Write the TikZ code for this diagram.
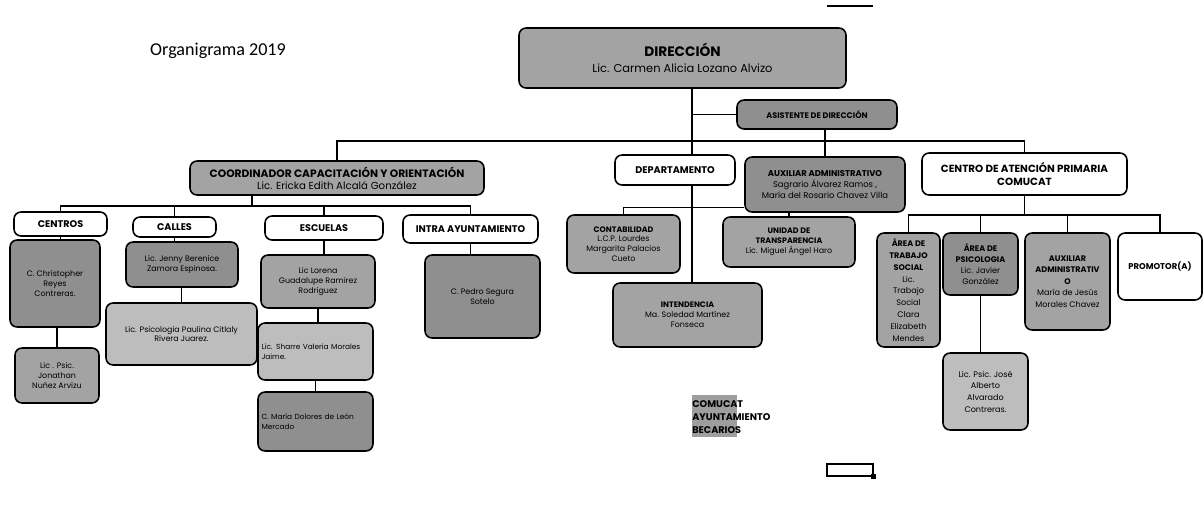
\documentclass[tikz,border=0pt]{standalone}
\usepackage{fontspec}
\setmainfont{Poppins}
\newfontfamily\titlefont{Carlito}
\definecolor{boxdark}{gray}{0.56}
\definecolor{boxmid}{gray}{0.64}
\definecolor{boxlight}{gray}{0.74}
\definecolor{legendgray}{gray}{0.62}

\begin{document}
\begin{tikzpicture}[x = 0.02cm, y = -0.02cm,
	box/.style = {draw, line width = 0.9pt, rounded corners = 4pt, align = center, inner sep = 1pt, font = \fontsize{4.5}{5.6}\selectfont},
	darkbox/.style = {box, fill = boxdark},
	midbox/.style = {box, fill = boxmid},
	lightbox/.style = {box, fill = boxlight},
	whitebox/.style = {box, fill = white},
	headfont/.style = {font = \fontsize{5.5}{6.6}\selectfont\bfseries},
	link/.style = {line width = 0.8pt}]

	\useasboundingbox (0, 0) rectangle (1204, 518);

	% Title
	
	\node (title) at (218, 51) {\titlefont\fontsize{10.3}{12}\selectfont Organigrama 2019};
	
	% Direction, assistant and main bus
	
	\node [midbox, minimum width = 6.54cm, minimum height = 1.2cm, font = \fontsize{6.5}{9}\selectfont] (dir) at (682.5, 58) {{\fontsize{7.8}{8.5}\selectfont\bfseries DIRECCIÓN}\\Lic. Carmen Alicia Lozano Alvizo};
	\node [darkbox, minimum width = 3.2cm, minimum height = 0.58cm, font = \fontsize{4.6}{5.4}\selectfont\bfseries] (asis) at (817, 114.5) {ASISTENTE DE DIRECCIÓN};
	
	\coordinate (mbus) at (692, 141);
	
	\node [midbox, minimum width = 5.88cm, minimum height = 0.68cm, font = \fontsize{5.8}{7}\selectfont] (coord) at (337, 178) {{\fontsize{6.1}{7}\selectfont\bfseries COORDINADOR CAPACITACIÓN Y ORIENTACIÓN}\\Lic. Ericka Edith Alcalá González};
	\node [whitebox, minimum width = 2.4cm, minimum height = 0.6cm, headfont] (dep) at (675, 170) {DEPARTAMENTO};
	\node [darkbox, minimum width = 3.2cm, minimum height = 1.1cm, font = \fontsize{4.8}{6}\selectfont] (auxa) at (825, 184.5) {{\bfseries AUXILIAR ADMINISTRATIVO}\\Sagrario Álvarez Ramos ,\\María del Rosario Chavez Villa};
	\node [whitebox, minimum width = 4.1cm, minimum height = 0.84cm, font = \fontsize{5.9}{7}\selectfont\bfseries] (cap) at (1024.5, 174) {CENTRO DE ATENCIÓN PRIMARIA\\COMUCAT};
	
	\draw [link] (dir.south -| mbus) -- (dep.north -| mbus);
	\draw [link] (mbus |- asis.west) -- (asis.west);
	\draw [link] (coord.north) |- (mbus) -| (cap.north);
	\draw [link] (auxa.north |- asis.south) -- (auxa.north);
	
	% Departamento branch
	
	\node [midbox, minimum width = 2.26cm, minimum height = 1.16cm] (cont) at (623.5, 244) {{\bfseries CONTABILIDAD}\\L.C.P. Lourdes\\Margarita Palacios\\Cueto};
	\node [midbox, minimum width = 2.64cm, minimum height = 1.0cm] (unid) at (789, 242) {{\bfseries UNIDAD DE}\\{\bfseries TRANSPARENCIA}\\Lic. Miguel Ángel Haro};
	\node [midbox, minimum width = 2.98cm, minimum height = 1.28cm] (int) at (687.5, 315) {{\bfseries INTENDENCIA}\\Ma. Soledad Martínez\\Fonseca};
	
	\draw [link] (dep.south -| mbus) -- (int.north -| mbus);
	\draw [link] (cont.north) |- ([yshift = 0.1cm] auxa.south west);
	\draw [link] (auxa.south -| unid.north) -- (unid.north);
	
	% Coordinador branch
	
	\node [whitebox, minimum width = 1.86cm, minimum height = 0.48cm, headfont] (cen) at (60.5, 224) {CENTROS};
	\node [whitebox, minimum width = 1.66cm, minimum height = 0.4cm, headfont] (cal) at (174.5, 227) {CALLES};
	\node [whitebox, minimum width = 2.36cm, minimum height = 0.48cm, headfont] (esc) at (324, 228) {ESCUELAS};
	\node [whitebox, minimum width = 2.7cm, minimum height = 0.56cm, headfont] (intra) at (470.5, 229) {INTRA AYUNTAMIENTO};
	
	\coordinate (cbus) at (252, 206);
	
	\draw [link] (cbus) -- (cbus |- coord.south);
	\draw [link] (cen.north) |- (cbus) -| (intra.north);
	\draw [link] (cal.north) -- (cal.north |- cbus);
	\draw [link] (esc.north) -- (esc.north |- cbus);
	
	\node [darkbox, minimum width = 1.8cm, minimum height = 1.74cm] (chr) at (55, 283.5) {C. Christopher\\Reyes\\Contreras.};
	\node [midbox, minimum width = 1.68cm, minimum height = 1.1cm] (jon) at (57, 375.5) {Lic . Psic.\\Jonathan\\Nuñez Arvizu};
	\node [darkbox, minimum width = 2.24cm, minimum height = 0.9cm] (jen) at (182, 264.5) {Lic. Jenny Berenice\\Zamora Espinosa.};
	\node [lightbox, minimum width = 3.02cm, minimum height = 1.24cm] (pau) at (181.5, 334) {Lic. Psicologia Paulina Citlaly\\Rivera Juarez.};
	\node [midbox, minimum width = 2.28cm, minimum height = 1.06cm] (lor) at (318, 281.5) {Lic Lorena\\Guadalupe Ramirez\\Rodriguez};
	\node [lightbox, minimum width = 2.3cm, minimum height = 1.14cm, align = left, text width = 2.16cm, font = \fontsize{4.2}{5.4}\selectfont] (sha) at (315.5, 351.5) {Lic. Sharre Valeria Morales\\Jaime.};
	\node [darkbox, minimum width = 2.3cm, minimum height = 1.18cm, align = left, text width = 2.16cm, font = \fontsize{4.2}{5.4}\selectfont] (mar) at (315.5, 421.5) {C. María Dolores de León\\Mercado};
	\node [darkbox, minimum width = 2.3cm, minimum height = 1.66cm] (ped) at (482.5, 296.5) {C. Pedro Segura\\Sotelo};
	
	\draw [link] (cen.south) -- (cen.south |- chr.north);
	\draw [link] (jon.north |- chr.south) -- (jon.north);
	\draw [link] (cal.south) -- (cal.south |- jen.north);
	\draw [link] (pau.north |- jen.south) -- (pau.north);
	\draw [link] (esc.south) -- (esc.south |- lor.north);
	\draw [link] (lor.south) -- (lor.south |- sha.north);
	\draw [link] (sha.south) -- (mar.north);
	\draw [link] (intra.south) -- (intra.south |- ped.north);
	
	% Centro de atencion branch
	
	\node [midbox, minimum width = 1.26cm, minimum height = 2.28cm, font = \fontsize{4.6}{6.7}\selectfont] (ats) at (908.5, 290) {{\bfseries ÁREA DE}\\{\bfseries TRABAJO}\\{\bfseries SOCIAL}\\Lic.\\Trabajo\\Social\\Clara\\Elizabeth\\Mendes};
	\node [darkbox, minimum width = 1.5cm, minimum height = 1.24cm, font = \fontsize{4.6}{6.4}\selectfont] (aps) at (980.5, 264) {{\bfseries ÁREA DE}\\{\bfseries PSICOLOGIA}\\Lic. Javier\\González};
	\node [lightbox, minimum width = 1.7cm, minimum height = 1.54cm, font = \fontsize{4.6}{6.6}\selectfont] (jos) at (985.5, 391.5) {Lic. Psic. José\\Alberto\\Alvarado\\Contreras.};
	\node [midbox, minimum width = 1.7cm, minimum height = 1.94cm, font = \fontsize{4.6}{6.5}\selectfont] (aux2) at (1067.5, 281.5) {{\bfseries AUXILIAR}\\{\bfseries ADMINISTRATIV}\\{\bfseries O}\\María de Jesús\\Morales Chavez};
	\node [whitebox, minimum width = 1.68cm, minimum height = 1.34cm, font = \fontsize{4.8}{6}\selectfont\bfseries] (pro) at (1160, 266.5) {PROMOTOR(A)};
	
	\coordinate (rbus) at (1030, 215);
	
	\draw [link] (cap.south) -- (cap.south |- rbus);
	\draw [link] (ats.north) |- (rbus) -| (pro.north);
	\draw [link] (aps.north) -- (aps.north |- rbus);
	\draw [link] (aux2.north) -- (aux2.north |- rbus);
	\draw [link] (aps.south) -- (aps.south |- jos.north);
	
	% Legend
	
	\fill [legendgray] (692, 395) rectangle (737, 437);
	\node [anchor = west, inner sep = 0pt, headfont] (leg1) at (692, 404) {COMUCAT};
	\node [anchor = west, inner sep = 0pt, headfont] (leg2) at (692, 417) {AYUNTAMIENTO};
	\node [anchor = west, inner sep = 0pt, headfont] (leg3) at (692, 430) {BECARIOS};
	
	% Marks of the sheet
	
	\draw [line width = 1.2pt] (827, 6) -- (873, 6);
	\draw [line width = 1pt] (827, 464) rectangle (873, 476);
	\fill (871, 474) rectangle (876, 479);
	
\end{tikzpicture}
\end{document}
